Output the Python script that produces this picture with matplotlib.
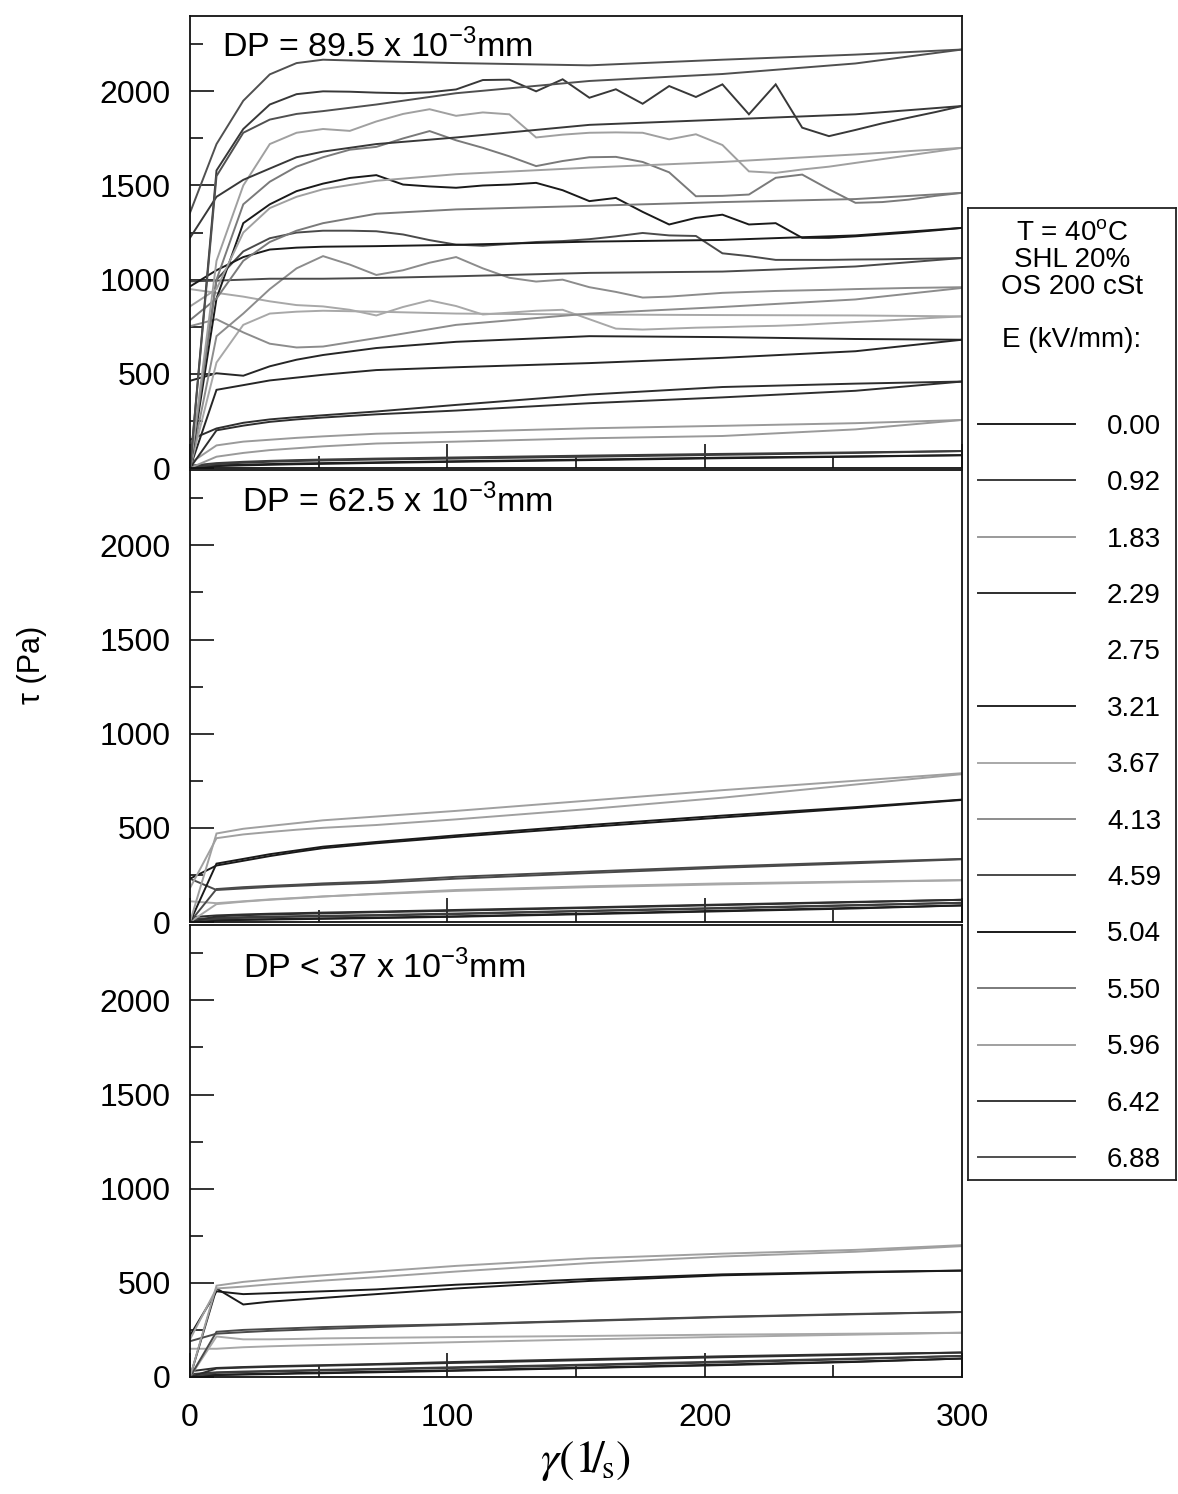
import matplotlib
matplotlib.use("Agg")
import matplotlib.pyplot as plt
from matplotlib.lines import Line2D
from matplotlib.ticker import MultipleLocator

plt.rcParams["font.family"] = ["Liberation Sans", "DejaVu Sans"]

################################################################################
## DATA - shear stress tau (Pa) vs shear rate (1/s), up and down ramps
################################################################################

rate_fine = [0.0, 10.3, 20.7, 31.0, 41.4, 51.7, 62.1, 72.4, 82.8, 93.1,
             103.4, 113.8, 124.1, 134.5, 144.8, 155.2, 165.5, 175.9, 186.2, 196.6,
             206.9, 217.2, 227.6, 237.9, 248.3, 258.6, 269.0, 279.3, 289.7, 300.0]
rate_coarse = [0.0, 10.3, 20.7, 31.0, 41.4, 51.7, 72.4, 103.4, 155.2, 206.9, 258.6, 300.0]

field_labels = ["0.00", "0.92", "1.83", "2.29", "2.75", "3.21", "3.67",
                "4.13", "4.59", "5.04", "5.50", "5.96", "6.42", "6.88"]

## DP = 89.5 x 10^-3 mm
dp895_up = {
    "0.00": [0, 10, 14, 17, 20, 22, 27, 33, 42, 52, 60, 68],
    "0.92": [0, 20, 28, 33, 37, 40, 45, 50, 60, 70, 80, 90],
    "1.83": [0, 60, 80, 95, 105, 115, 130, 140, 158, 170, 205, 255],
    "2.29": [0, 200, 225, 245, 258, 268, 285, 305, 344, 375, 410, 459],
    "3.21": [0, 415, 440, 465, 480, 495, 520, 535, 557, 585, 620, 681],
    "3.67": [0, 560, 760, 820, 830, 835, 830, 820, 815, 812, 810, 805],
    "4.13": [0, 700, 820, 950, 1060, 1125, 1080, 1025, 1050, 1090, 1120, 1060, 1010, 990, 1000,
             960, 935, 905, 910, 920, 930, 935, 940, 943, 946, 950, 953, 956, 958, 960],
    "4.59": [0, 1000, 1150, 1220, 1250, 1260, 1260, 1257, 1240, 1210, 1186, 1180, 1190, 1200, 1205,
             1215, 1230, 1248, 1235, 1232, 1140, 1125, 1105, 1105, 1105, 1107, 1108, 1110, 1112, 1115],
    "5.04": [0, 900, 1300, 1400, 1470, 1510, 1540, 1555, 1505, 1495, 1488, 1500, 1505, 1514, 1475,
             1417, 1434, 1360, 1293, 1328, 1345, 1293, 1300, 1222, 1222, 1230, 1240, 1250, 1262, 1275],
    "5.50": [0, 1000, 1400, 1520, 1600, 1650, 1690, 1705, 1750, 1789, 1740, 1700, 1655, 1603, 1630,
             1650, 1652, 1625, 1570, 1443, 1445, 1452, 1541, 1558, 1480, 1408, 1412, 1425, 1445, 1461],
    "5.96": [0, 1100, 1500, 1720, 1780, 1800, 1790, 1840, 1880, 1905, 1870, 1888, 1878, 1755, 1770,
             1780, 1782, 1780, 1745, 1772, 1715, 1575, 1567, 1585, 1600, 1620, 1640, 1660, 1680, 1700],
    "6.42": [0, 1580, 1800, 1930, 1985, 2000, 1998, 1993, 1990, 1995, 2010, 2060, 2062, 2000, 2064,
             1966, 2011, 1934, 2028, 1970, 2037, 1878, 2037, 1807, 1762, 1795, 1830, 1860, 1890, 1922],
    "6.88": [0, 1550, 1780, 1850, 1880, 1895, 1930, 1990, 2055, 2092, 2148, 2222],
}
dp895_down = {
    "0.00": [8, 14, 18, 21, 24, 26, 30, 36, 45, 55, 62, 68],
    "0.92": [12, 26, 33, 38, 42, 45, 50, 56, 66, 75, 83, 90],
    "1.83": [25, 120, 140, 150, 160, 168, 182, 192, 211, 224, 238, 255],
    "2.29": [150, 210, 240, 258, 270, 280, 300, 335, 390, 430, 448, 459],
    "3.21": [463, 503, 490, 540, 575, 600, 637, 670, 700, 695, 685, 681],
    "3.67": [950, 930, 910, 885, 865, 858, 840, 810, 855, 890, 860, 815, 825, 835, 840,
             790, 740, 735, 740, 745, 748, 752, 755, 760, 768, 775, 782, 790, 798, 805],
    "4.13": [753, 790, 720, 660, 640, 645, 690, 760, 820, 855, 895, 956],
    "4.59": [991, 995, 1000, 1005, 1005, 1005, 1009, 1018, 1036, 1043, 1070, 1115],
    "5.04": [964, 1050, 1120, 1160, 1170, 1175, 1178, 1185, 1202, 1211, 1235, 1275],
    "5.50": [785, 900, 1100, 1200, 1260, 1300, 1350, 1373, 1392, 1412, 1428, 1461],
    "5.96": [858, 950, 1250, 1380, 1440, 1480, 1525, 1560, 1595, 1625, 1665, 1700],
    "6.42": [1222, 1440, 1530, 1590, 1650, 1680, 1720, 1755, 1822, 1850, 1878, 1922],
    "6.88": [1355, 1720, 1950, 2090, 2150, 2168, 2160, 2150, 2138, 2168, 2195, 2222],
}

## DP = 62.5 x 10^-3 mm
dp625_up = {
    "0.00": [0, 8, 11, 13, 15, 17, 21, 28, 42, 57, 72, 88],
    "0.92": [0, 18, 22, 25, 28, 30, 34, 42, 58, 72, 88, 102],
    "2.29": [0, 30, 36, 40, 43, 46, 52, 60, 75, 90, 105, 118],
    "3.67": [0, 95, 108, 118, 126, 135, 150, 170, 190, 205, 215, 222],
    "4.59": [0, 175, 185, 192, 198, 205, 215, 240, 268, 295, 318, 335],
    "5.04": [0, 310, 335, 360, 380, 400, 425, 460, 515, 565, 610, 650],
    "5.96": [0, 470, 495, 510, 525, 540, 560, 590, 645, 700, 750, 790],
}
dp625_down = {
    "0.00": [5, 10, 13, 15, 17, 19, 23, 30, 45, 60, 75, 88],
    "0.92": [15, 22, 26, 29, 31, 33, 37, 45, 60, 75, 90, 102],
    "2.29": [25, 35, 40, 44, 47, 50, 55, 64, 78, 93, 107, 118],
    "3.67": [110, 100, 110, 120, 128, 136, 148, 165, 185, 200, 212, 222],
    "4.59": [230, 170, 178, 186, 192, 198, 208, 230, 260, 288, 312, 333],
    "5.04": [230, 300, 325, 350, 372, 392, 418, 452, 505, 555, 605, 648],
    "5.96": [180, 445, 465, 478, 490, 500, 515, 545, 600, 660, 730, 785],
}

## DP < 37 x 10^-3 mm
dp37_up = {
    "0.00": [0, 10, 13, 15, 18, 20, 25, 33, 48, 63, 80, 98],
    "0.92": [0, 22, 26, 29, 32, 35, 40, 48, 62, 78, 95, 112],
    "2.29": [0, 45, 50, 54, 57, 60, 66, 75, 90, 105, 118, 130],
    "3.67": [0, 215, 200, 200, 202, 205, 208, 212, 218, 225, 230, 235],
    "4.59": [0, 240, 250, 255, 260, 265, 272, 280, 300, 320, 335, 345],
    "5.04": [0, 470, 385, 400, 410, 420, 440, 470, 510, 540, 555, 565],
    "5.96": [0, 485, 505, 518, 530, 540, 560, 590, 630, 655, 675, 700],
}
dp37_down = {
    "0.00": [5, 12, 15, 18, 21, 23, 28, 36, 50, 66, 82, 98],
    "0.92": [15, 25, 29, 32, 35, 38, 43, 52, 66, 82, 98, 112],
    "2.29": [30, 48, 53, 57, 60, 63, 69, 80, 95, 110, 122, 130],
    "3.67": [150, 150, 158, 163, 167, 170, 176, 185, 200, 213, 225, 235],
    "4.59": [190, 230, 238, 245, 250, 255, 265, 278, 298, 318, 333, 345],
    "5.04": [220, 455, 440, 445, 450, 455, 465, 490, 520, 545, 558, 565],
    "5.96": [200, 470, 480, 492, 502, 512, 530, 560, 605, 640, 665, 695],
}

panel_notes = ["DP = 89.5 x 10$^{\\mathregular{-3}}$mm",
               "DP = 62.5 x 10$^{\\mathregular{-3}}$mm",
               "DP < 37 x 10$^{\\mathregular{-3}}$mm"]

## grey level of each field's line (2.75 came out white in the original)
line_grey = ["#1e1e1e", "#3c3c3c", "#9a9a9a", "#2e2e2e", "#ffffff", "#262626", "#a8a8a8",
             "#8c8c8c", "#4a4a4a", "#1a1a1a", "#7a7a7a", "#a0a0a0", "#383838", "#505050"]


################################################################################
## HELPER FUNCTION - draw the up/down ramps of every field
################################################################################

def plot_loops(ax, up, down):
    for field, grey in zip(field_labels, line_grey):
        for branch in (up, down):
            tau = branch.get(field)
            if tau is None:
                continue
            rate = rate_fine if len(tau) == len(rate_fine) else rate_coarse
            ax.plot(rate, tau, color=grey, linewidth=1.4, solid_joinstyle="miter")


W, H = 1178, 1494
fig = plt.figure(figsize=(W / 100, H / 100), dpi=100)

left, width = 190 / W, 772 / W
panel_h = 452 / H
zeros_px = [468, 922, 1377]
note_pos = [(0.041, 0.932), (0.067, 0.930), (0.069, 0.905)]
data = [(dp895_up, dp895_down), (dp625_up, dp625_down), (dp37_up, dp37_down)]

axes = []
for i, (up, down) in enumerate(data):
    ax = fig.add_axes([left, 1 - zeros_px[i] / H, width, panel_h])
    plot_loops(ax, up, down)
    ax.set_xlim(0, 300)
    ax.set_ylim(0, 2400)
    ax.xaxis.set_major_locator(MultipleLocator(100))
    ax.xaxis.set_minor_locator(MultipleLocator(50))
    ax.yaxis.set_major_locator(MultipleLocator(500))
    ax.yaxis.set_minor_locator(MultipleLocator(250))
    ax.tick_params(which="both", direction="in", width=1.2, labelsize=23, color="#111111")
    ax.tick_params(which="major", length=17)
    ax.tick_params(which="minor", length=9)
    ax.tick_params(axis="y", pad=14)
    ax.tick_params(axis="x", pad=19, labelbottom=(i == 2))
    for sp in ax.spines.values():
        sp.set_linewidth(1.3)
        sp.set_color("#111111")
    ax.text(note_pos[i][0], note_pos[i][1], panel_notes[i], transform=ax.transAxes,
            fontsize=24.5, va="center", ha="left")
    axes.append(ax)

fig.text(0.027, 0.555, "τ (Pa)", rotation=90, fontsize=22, ha="center", va="center")
fig.text(0.497, 0.022, r"$\gamma\left(1\!/_{\!\mathrm{s}}\right)$", fontsize=33,
         ha="center", va="center", math_fontfamily="stix")

################################################################################
## Legend box on the right
################################################################################

lax = fig.add_axes([968 / W, 1 - 1180 / H, 208 / W, 972 / H])
lax.set_xticks([])
lax.set_yticks([])
lax.set_xlim(0, 1)
lax.set_ylim(0, 1)
for sp in lax.spines.values():
    sp.set_linewidth(1.3)
    sp.set_color("#222222")

header = ["T = 40$^{\\mathregular{o}}$C", "SHL 20%", "OS 200 cSt", "E (kV/mm):"]
header_px = [234, 260, 287, 340]
for txt, ypx in zip(header, header_px):
    lax.text(0.5, (1180 - ypx) / 972, txt, ha="center", va="center", fontsize=20)

handles = [Line2D([], [], color=g, linewidth=1.4) for g in line_grey]
lax.legend(handles, field_labels, loc="upper left",
           bbox_to_anchor=(0.0, (1180 - 404) / 972), frameon=False, fontsize=20,
           handlelength=3.5, handletextpad=1.15, labelspacing=1.095,
           borderaxespad=0.0, borderpad=0.35)

fig.savefig("out.png", dpi=100)
